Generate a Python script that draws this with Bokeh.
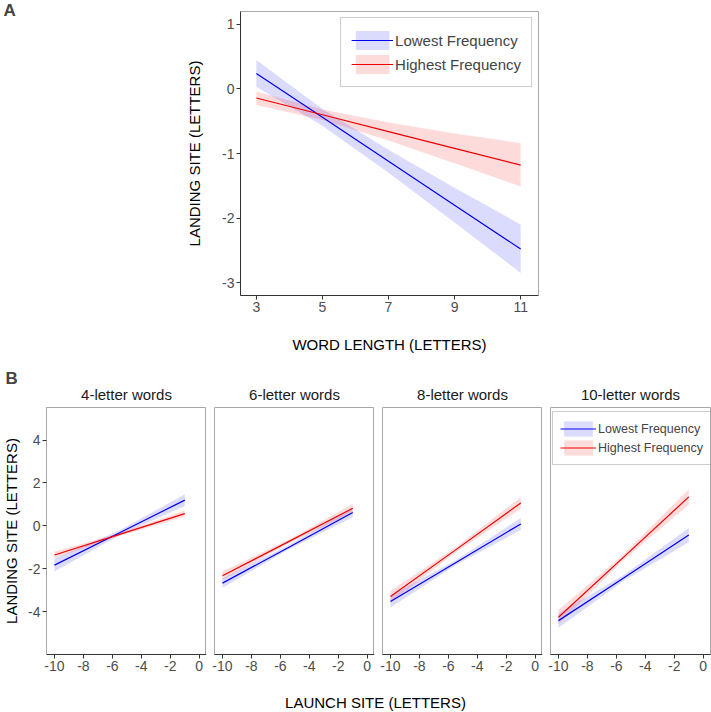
from bokeh.plotting import figure
from bokeh.layouts import column, row
from bokeh.models import (Range1d, FixedTicker, Legend, LegendItem, Title)
from bokeh.embed import file_html
from bokeh.resources import INLINE

# ---------------- data ----------------
A_LENGTH = [3, 5, 7, 9, 11]
A_LOW_FIT = [0.24, -0.44, -1.12, -1.80, -2.48]
A_LOW_LO = [0.03, -0.57, -1.30, -2.07, -2.85]
A_LOW_HI = [0.45, -0.31, -0.94, -1.53, -2.10]
A_HIGH_FIT = [-0.14, -0.40, -0.66, -0.92, -1.18]
A_HIGH_LO = [-0.25, -0.48, -0.80, -1.15, -1.51]
A_HIGH_HI = [-0.04, -0.32, -0.52, -0.69, -0.84]
A_XTICKS = [3, 5, 7, 9, 11]
A_YTICKS = [-3, -2, -1, 0, 1]

FACETS = ["4-letter words", "6-letter words", "8-letter words", "10-letter words"]
B_LAUNCH = [-10, -5.5, -1]
B_LOW_FIT = [[-1.83, -0.32, 1.20], [-2.67, -1.03, 0.62], [-3.53, -1.72, 0.09], [-4.42, -2.43, -0.43]]
B_LOW_LO = [[-2.13, -0.44, 0.93], [-2.89, -1.13, 0.40], [-3.81, -1.84, -0.19], [-4.75, -2.57, -0.76]]
B_LOW_HI = [[-1.53, -0.20, 1.47], [-2.45, -0.93, 0.84], [-3.25, -1.60, 0.37], [-4.09, -2.29, -0.10]]
B_HIGH_FIT = [[-1.36, -0.40, 0.57], [-2.33, -0.76, 0.82], [-3.30, -1.12, 1.07], [-4.26, -1.46, 1.35]]
B_HIGH_LO = [[-1.51, -0.47, 0.42], [-2.53, -0.85, 0.62], [-3.57, -1.24, 0.80], [-4.59, -1.60, 0.99]]
B_HIGH_HI = [[-1.21, -0.33, 0.72], [-2.13, -0.67, 1.02], [-3.03, -1.00, 1.34], [-3.93, -1.32, 1.71]]
B_XTICKS = [-10, -8, -6, -4, -2, 0]
B_YTICKS = [-4, -2, 0, 2, 4]

SERIES = ["Lowest Frequency", "Highest Frequency"]
LOW_COLOR = "#0000ee"
HIGH_COLOR = "#ee0000"
BAND_ALPHA = 0.14
FONT = "Liberation Sans"
TICK_COLOR = "#4d4d4d"
OUTLINE = "#a8a8a8"
AXIS_DARK = "#333333"


def style_axis(ax, ticks):
    ax.ticker = FixedTicker(ticks=ticks)
    ax.major_label_overrides = {t: str(t) for t in ticks}
    ax.major_tick_in = 0
    ax.major_tick_out = 4
    ax.minor_tick_line_color = None
    ax.major_label_text_font = FONT
    ax.major_label_text_font_size = "14px"
    ax.major_label_text_color = TICK_COLOR
    ax.major_label_standoff = 2
    ax.axis_label_text_font = FONT
    ax.axis_label_text_font_style = "normal"
    ax.axis_label_text_font_size = "15px"
    ax.axis_label_text_color = "#000000"
    ax.major_tick_line_color = AXIS_DARK


def panel_letter(t, offset, standoff):
    t.align = "left"
    t.offset = offset
    t.standoff = standoff
    t.text_font = FONT
    t.text_font_size = "17px"
    t.text_font_style = "bold"


# ---------------- Panel A ----------------
pA = figure(frame_width=298, frame_height=284,
            min_border_left=240, min_border_right=172,
            min_border_top=11, min_border_bottom=63,
            x_range=Range1d(2.52, 11.54), y_range=Range1d(-3.2, 1.2),
            title="A", output_backend="svg", toolbar_location=None)
pA.grid.visible = False
pA.outline_line_color = OUTLINE
panel_letter(pA.title, -237, -16)

bl = pA.varea(x=A_LENGTH, y1=A_LOW_LO, y2=A_LOW_HI, fill_color=LOW_COLOR, fill_alpha=BAND_ALPHA)
bh = pA.varea(x=A_LENGTH, y1=A_HIGH_LO, y2=A_HIGH_HI, fill_color=HIGH_COLOR, fill_alpha=BAND_ALPHA)
ll = pA.line(A_LENGTH, A_LOW_FIT, line_color=LOW_COLOR, line_width=1.2)
lh = pA.line(A_LENGTH, A_HIGH_FIT, line_color=HIGH_COLOR, line_width=1.2)

style_axis(pA.xaxis[0], A_XTICKS)
style_axis(pA.yaxis[0], A_YTICKS)
pA.xaxis.axis_line_color = AXIS_DARK
pA.yaxis.axis_line_color = AXIS_DARK
pA.xaxis.axis_label = "WORD LENGTH (LETTERS)"
pA.yaxis.axis_label = "LANDING SITE (LETTERS)"
pA.xaxis.axis_label_standoff = 21
pA.yaxis.axis_label_standoff = 16

legA = Legend(items=[LegendItem(label=SERIES[0], renderers=[bl, ll]),
                     LegendItem(label=SERIES[1], renderers=[bh, lh])],
              location="top_right", margin=6, padding=10, spacing=0,
              glyph_width=42, glyph_height=24, label_height=24, label_standoff=2,
              label_text_font=FONT, label_text_font_size="15px",
              border_line_color="#999999", background_fill_alpha=1.0)
pA.add_layout(legA)

# ---------------- Panel B ----------------
facets = []
for i, name in enumerate(FACETS):
    first = i == 0
    last = i == len(FACETS) - 1
    f = figure(frame_width=160, frame_height=247,
               min_border_left=43 if first else 8,
               min_border_right=3 if last else 0,
               min_border_top=49, min_border_bottom=24,
               x_range=Range1d(-10.55, 0.5), y_range=Range1d(-6.0, 5.52),
               y_axis_location="left" if first else None,
               title="B" if first else "",
               output_backend="svg", toolbar_location=None)
    f.grid.visible = False
    f.outline_line_color = OUTLINE
    if first:
        panel_letter(f.title, -41, -16)
    strip = Title(text=name, align="center", standoff=9, text_font=FONT,
                  text_font_size="15px", text_font_style="normal", text_color="#1a1a1a")
    f.add_layout(strip, "above")

    b1 = f.varea(x=B_LAUNCH, y1=B_LOW_LO[i], y2=B_LOW_HI[i], fill_color=LOW_COLOR, fill_alpha=BAND_ALPHA)
    b2 = f.varea(x=B_LAUNCH, y1=B_HIGH_LO[i], y2=B_HIGH_HI[i], fill_color=HIGH_COLOR, fill_alpha=BAND_ALPHA)
    l1 = f.line(B_LAUNCH, B_LOW_FIT[i], line_color=LOW_COLOR, line_width=1.2)
    l2 = f.line(B_LAUNCH, B_HIGH_FIT[i], line_color=HIGH_COLOR, line_width=1.2)

    style_axis(f.xaxis[0], B_XTICKS)
    f.xaxis.axis_line_color = AXIS_DARK
    if first:
        style_axis(f.yaxis[0], B_YTICKS)
        f.yaxis.axis_line_color = OUTLINE
        f.yaxis.axis_label = "LANDING SITE (LETTERS)"
        f.yaxis.axis_label_standoff = 5
    if last:
        legB = Legend(items=[LegendItem(label=SERIES[0], renderers=[b1, l1]),
                             LegendItem(label=SERIES[1], renderers=[b2, l2])],
                      location=(2, 189), padding=7, spacing=0, margin=0,
                      glyph_width=36, glyph_height=19, label_height=19, label_standoff=2,
                      label_text_font=FONT, label_text_font_size="12.5px",
                      border_line_color="#999999", background_fill_alpha=1.0)
        f.add_layout(legB)
    facets.append(f)

# shared x-axis title for panel B (axis with only its label)
pT = figure(frame_width=664, frame_height=1, min_border_left=43, min_border_right=3,
            min_border_top=0, min_border_bottom=32,
            x_range=Range1d(0, 1), y_range=Range1d(0, 1), y_axis_location=None,
            output_backend="svg", toolbar_location=None)
pT.grid.visible = False
pT.outline_line_color = None
pT.xaxis.ticker = FixedTicker(ticks=[])
pT.xaxis.axis_line_color = None
pT.xaxis.major_tick_line_color = None
pT.xaxis.minor_tick_line_color = None
pT.xaxis.axis_label = "LAUNCH SITE (LETTERS)"
pT.xaxis.axis_label_text_font = FONT
pT.xaxis.axis_label_text_font_style = "normal"
pT.xaxis.axis_label_text_font_size = "15px"
pT.xaxis.axis_label_text_color = "#000000"
pT.xaxis.axis_label_standoff = 14

layout = column(row(pA), row(*facets), row(pT))
open("out.html", "w").write(file_html(layout, INLINE))
